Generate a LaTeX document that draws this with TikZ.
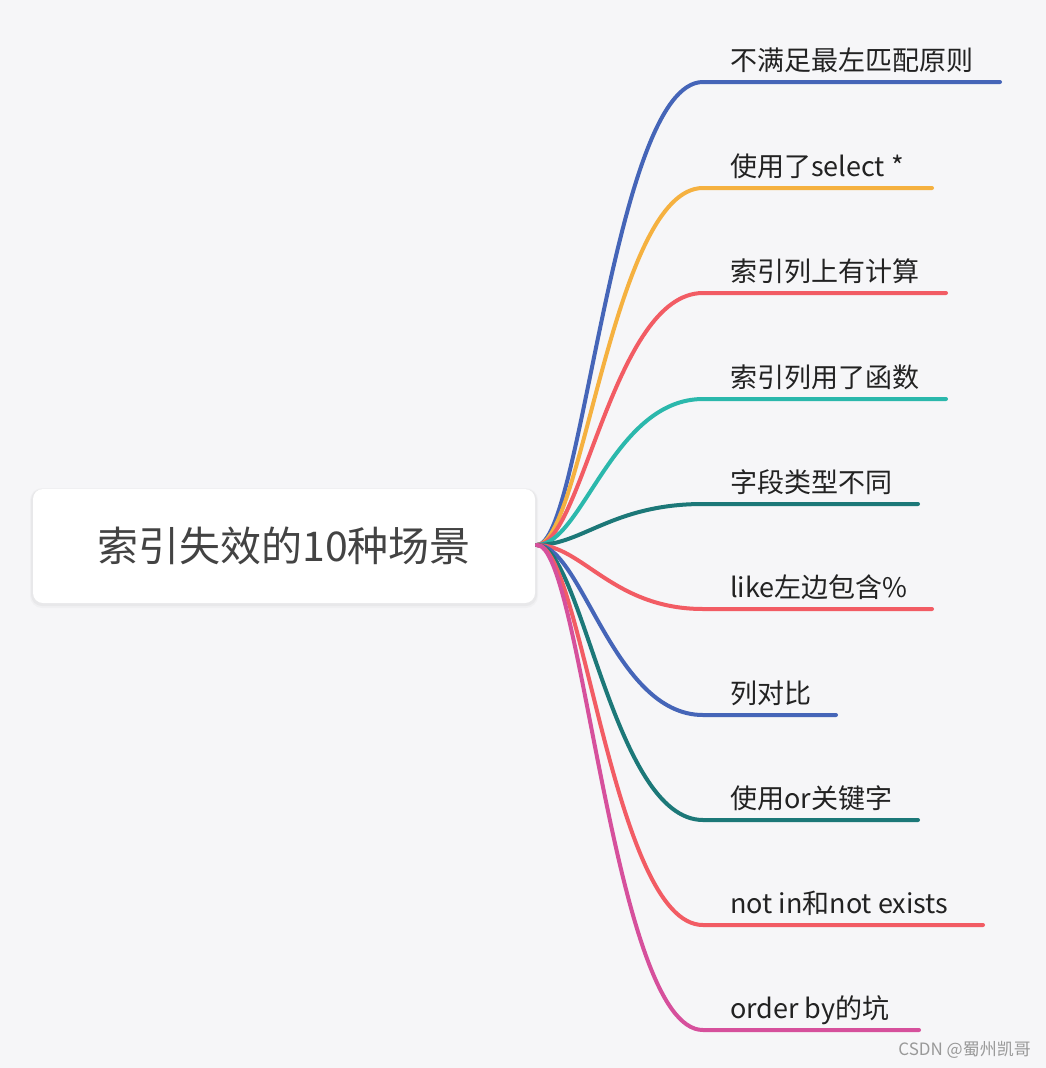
\documentclass[tikz,border=0pt]{standalone}
\usepackage{fontspec}
\newfontfamily\cjk{Noto Sans CJK SC}
\usetikzlibrary{calc}
\definecolor{bg}{HTML}{F6F6F8}
\definecolor{cblue}{HTML}{4565B8}
\definecolor{corange}{HTML}{F5B140}
\definecolor{cred}{HTML}{F25C64}
\definecolor{cteal}{HTML}{2BB8AC}
\definecolor{cdteal}{HTML}{1C7878}
\definecolor{cpink}{HTML}{D6509C}
\definecolor{txt}{HTML}{222222}
\begin{document}
\begin{tikzpicture}[x=1pt,y=-1pt,
  rootbox/.style={fill=white,rounded corners=10pt,minimum width=502pt,minimum height=114pt,inner sep=0pt,
    font=\cjk\fontsize{41}{41}\selectfont,text=txt!85},
  lbl/.style={anchor=base west,inner sep=0pt,font=\cjk\fontsize{27}{27}\selectfont,text=txt},
  branch/.style={line width=4pt,line cap=round},
  wmark/.style={anchor=base east,inner sep=0pt,font=\cjk\fontsize{17}{17}\selectfont,text=black!40}]
\fill[bg] (0,0) rectangle (1046,1068);
\useasboundingbox (0,0) rectangle (1046,1068);
% shadow
\fill[black,opacity=0.025,rounded corners=12pt] (30,488) rectangle (538,608);
\fill[black,opacity=0.03,rounded corners=11pt] (31,489) rectangle (537,606);
\node[rootbox] (root) at (284,546) {\raisebox{-3pt}{索引失效的10种场景}};
\coordinate (o) at (537,545);
\foreach \i/\y/\xe/\col/\txt in {
  1/82/1000/cblue/不满足最左匹配原则,
  2/188/932/corange/使用了select *,
  3/293/946/cred/索引列上有计算,
  4/399/946/cteal/索引列用了函数,
  5/504/918/cdteal/字段类型不同,
  6/609/932/cred/like左边包含\%,
  7/715/836/cblue/列对比,
  8/820/918/cdteal/使用or关键字,
  9/925/983/cred/not in和not exists,
  10/1030/919/cpink/order by的坑}{
  \coordinate (e\i) at (703,\y);
  \coordinate (f\i) at (\xe,\y);
  \draw[branch,\col] (o) .. controls +(45,0) and +(-90,0) .. (e\i) -- (f\i);
  \node[lbl] (l\i) at (730,\y-12) {\txt};
}
\node[wmark] (wm) at (1031,1055) {CSDN @蜀州凯哥};
\end{tikzpicture}
\end{document}
